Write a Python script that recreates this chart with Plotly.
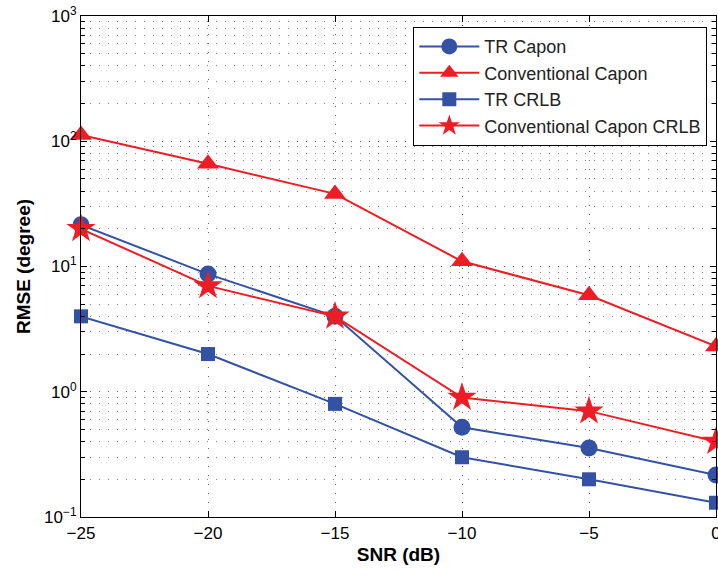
import plotly.graph_objects as go

snr = [-25, -20, -15, -10, -5, 0]
tr_capon = [21.5, 8.7, 4.0, 0.52, 0.355, 0.216]
conv_capon = [112, 66, 38, 11, 5.9, 2.3]
tr_crlb = [4.0, 2.0, 0.8, 0.3, 0.2, 0.13]
conv_crlb = [20, 7.0, 4.0, 0.9, 0.7, 0.4]

x_ticks = [-25, -20, -15, -10, -5, 0]
x_ticktext = ["\u221225", "\u221220", "\u221215", "\u221210", "\u22125", "0"]
y_ticks = [0.1, 1, 10, 100, 1000]
y_ticktext = ["10<sup>\u22121</sup>", "10<sup>0</sup>", "10<sup>1</sup>", "10<sup>2</sup>", "10<sup>3</sup>"]

blue = "#3452A4"
red = "#EE1C25"
FONT = "Liberation Sans, Arial, Helvetica"

fig = go.Figure()
series = [
    ("TR Capon", tr_capon, blue, "circle", 17),
    ("Conventional Capon", conv_capon, red, "triangle-up", 19),
    ("TR CRLB", tr_crlb, blue, "square", 14),
    ("Conventional Capon CRLB", conv_crlb, red, "star", 22),
]
for name, vals, col, sym, sz in series:
    fig.add_trace(go.Scatter(
        x=snr, y=vals, name=name, mode="lines+markers",
        line=dict(color=col, width=2),
        marker=dict(symbol=sym, size=sz, color=col, line=dict(width=0)),
        cliponaxis=False,
    ))

grid = dict(showgrid=True, gridcolor="#666666", griddash="1px,8px", gridwidth=1)
axis_common = dict(
    showline=True, linecolor="black", linewidth=1.2, mirror="ticks",
    ticks="inside", ticklen=6, tickcolor="black",
    zeroline=False, ticklabeloverflow="allow", automargin=False,
    tickfont=dict(family=FONT, size=17, color="black"),
    **grid,
)

fig.update_xaxes(
    range=[-25, 0], tickmode="array", tickvals=x_ticks, ticktext=x_ticktext,
    title=dict(text="<b>SNR (dB)</b>", font=dict(family=FONT, size=19, color="black"), standoff=6),
    **axis_common,
)
fig.update_yaxes(
    type="log", range=[-1, 3], tickmode="array", tickvals=y_ticks, ticktext=y_ticktext,
    title=dict(text="<b>RMSE (degree)</b>", font=dict(family=FONT, size=19, color="black"), standoff=8),
    minor=dict(ticks="inside", ticklen=4, tickcolor="black", dtick="D1",
               showgrid=True, gridcolor="#888888", griddash="1px,8px", gridwidth=1),
    **axis_common,
)

fig.update_layout(
    width=718, height=577,
    margin=dict(l=81, r=2, t=16, b=60),
    paper_bgcolor="white", plot_bgcolor="white",
    font=dict(family=FONT, size=17, color="black"),
    legend=dict(
        x=0.986, y=0.978, xanchor="right", yanchor="top",
        bgcolor="white", bordercolor="black", borderwidth=1.2,
        font=dict(family=FONT, size=18, color="#222222"),
        tracegroupgap=0, itemwidth=60,
    ),
    showlegend=True,
)

fig.write_html("out.html")
